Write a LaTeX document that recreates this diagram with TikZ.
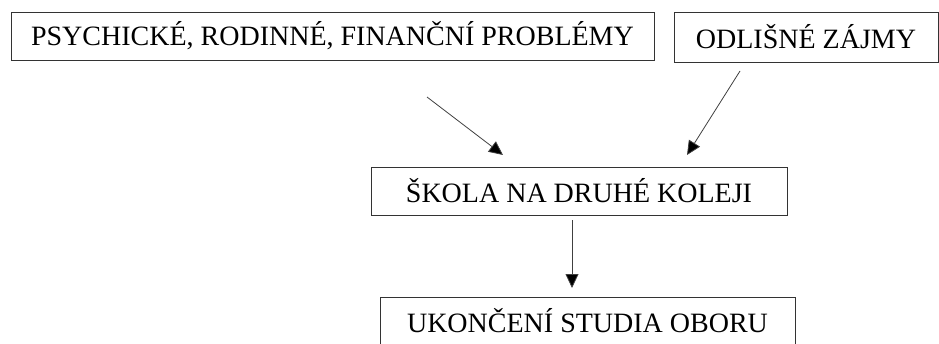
\documentclass[tikz,border=0pt]{standalone}
\usepackage{fontspec}
\setmainfont{Liberation Serif}
\usetikzlibrary{arrows.meta}
\begin{document}
\begin{tikzpicture}[x=1pt,y=-1pt,
  box/.style={draw=black!80,line width=0.9pt,inner sep=0pt,font=\fontsize{28}{32}\selectfont},
  conn/.style={draw=black!75,line width=0.8pt,-{Triangle[length=14pt,width=13pt,fill=black]}}]
\useasboundingbox (0,0) rectangle (939,343);
\begin{scope}
\clip (0,0) rectangle (939,343);
\node[box,minimum width=643,minimum height=48] (p) at (332.5,36) {PSYCHICKÉ, RODINNÉ, FINANČNÍ PROBLÉMY};
\node[box,minimum width=264,minimum height=50] (o) at (806,37) {ODLIŠNÉ ZÁJMY};
\node[box,minimum width=416,minimum height=48] (s) at (579,191) {ŠKOLA NA DRUHÉ KOLEJI};
\node[box,minimum width=415,minimum height=48] (u) at (587.5,321) {UKONČENÍ STUDIA OBORU};
\end{scope}
\coordinate (a1s) at (427,97);
\coordinate (a1e) at (503,155);
\coordinate (a2s) at (740,71);
\coordinate (a2e) at (687,155);
\coordinate (a3s) at (572,220);
\coordinate (a3e) at (572,288);
\draw[conn] (a1s) -- (a1e);
\draw[conn] (a2s) -- (a2e);
\draw[conn] (a3s) -- (a3e);
\end{tikzpicture}
\end{document}
